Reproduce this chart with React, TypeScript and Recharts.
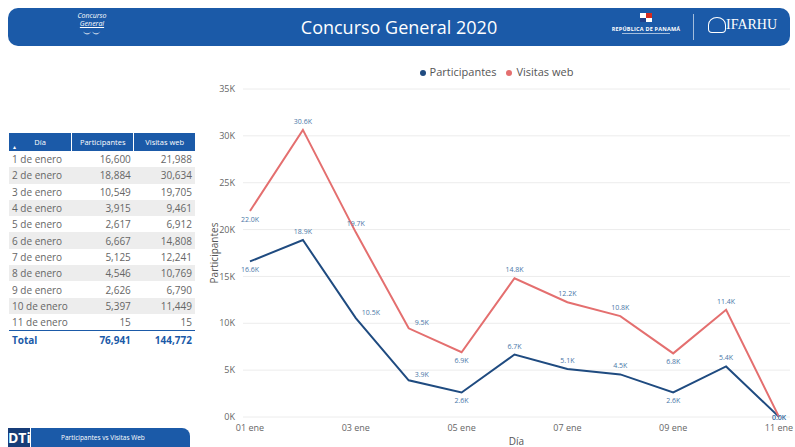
import { LineChart, Line, XAxis, YAxis, CartesianGrid, Legend, LabelList } from 'recharts';

const dayNames = [
  '1 de enero', '2 de enero', '3 de enero', '4 de enero', '5 de enero', '6 de enero',
  '7 de enero', '8 de enero', '9 de enero', '10 de enero', '11 de enero',
];
const axisDays = ['01 ene', '02 ene', '03 ene', '04 ene', '05 ene', '06 ene', '07 ene', '08 ene', '09 ene', '10 ene', '11 ene'];
const participantes = [16600, 18884, 10549, 3915, 2617, 6667, 5125, 4546, 2626, 5397, 15];
const visitasWeb = [21988, 30634, 19705, 9461, 6912, 14808, 12241, 10769, 6790, 11449, 15];
const yTicks = [0, 5000, 10000, 15000, 20000, 25000, 30000, 35000];

// label placement per point (Power BI moves them around to avoid overlap)
const partLabelPos = ['below', 'above', 'right', 'right', 'below', 'above', 'above', 'above', 'below', 'above', 'center'];
const visLabelPos = ['below', 'above', 'above', 'right', 'below', 'above', 'above', 'above', 'below', 'above', 'center'];

const BLUE = '#1b5aa8';
const PART = '#1f4b80';
const VIS = '#e46f6f';
const FONT = '"Open Sans", "Noto Sans", sans-serif';

const chartData = axisDays.map((d, i) => ({
  day: d,
  participantes: participantes[i],
  visitas: visitasWeb[i],
}));

const fmtK = (v: number) => `${(v / 1000).toFixed(1)}K`;
const numFmt = (v: number) => v.toLocaleString('en-US');

const makeLabel = (positions: string[]) => (props: any) => {
  const { x, y, value, index } = props;
  const pos = positions[index] || 'above';
  let dx = 0;
  let dy = -6;
  if (pos === 'below') dy = 11;
  if (pos === 'right') { dx = 6; dy = -3; }
  if (pos === 'center') dy = 3;
  return (
    <text x={x + dx} y={y + dy} fontSize={7} fill="#4a77a8" textAnchor={pos === 'right' ? 'start' : 'middle'} fontFamily={FONT}>
      {fmtK(value)}
    </text>
  );
};

function Header() {
  return (
    <div style={{
      position: 'absolute', left: 8, top: 8, width: 782, height: 38, background: BLUE,
      borderRadius: 10, color: '#fff', fontFamily: FONT,
    }}>
      <div style={{ position: 'absolute', left: 62, top: 4, width: 44, textAlign: 'center', lineHeight: '8px' }}>
        <div style={{ fontSize: 7, fontStyle: 'italic' }}>Concurso</div>
        <div style={{ fontSize: 7, fontStyle: 'italic', textDecoration: 'underline' }}>General</div>
        <div style={{ fontSize: 9, lineHeight: '12px' }}>︶︶</div>
      </div>
      <div style={{ position: 'absolute', left: 0, width: 782, top: 7, textAlign: 'center', fontSize: 18 }}>
        Concurso General 2020
      </div>
      <div style={{ position: 'absolute', left: 632, top: 5, width: 12, height: 9 }}>
        <div style={{ position: 'absolute', left: 0, top: 0, width: 6, height: 4.5, background: '#fff' }} />
        <div style={{ position: 'absolute', left: 6, top: 0, width: 6, height: 4.5, background: '#d52b1e' }} />
        <div style={{ position: 'absolute', left: 0, top: 4.5, width: 6, height: 4.5, background: '#1e3f8a' }} />
        <div style={{ position: 'absolute', left: 6, top: 4.5, width: 6, height: 4.5, background: '#fff' }} />
      </div>
      <div style={{ position: 'absolute', left: 596, top: 17, width: 84, textAlign: 'center', fontSize: 5.5, fontWeight: 700, letterSpacing: 0.2 }}>
        REPÚBLICA DE PANAMÁ
      </div>
      <div style={{ position: 'absolute', left: 614, top: 25, width: 48, height: 1, background: 'rgba(255,255,255,0.6)' }} />
      <div style={{ position: 'absolute', left: 685, top: 6, width: 1, height: 26, background: 'rgba(255,255,255,0.6)' }} />
      <div style={{ position: 'absolute', left: 700, top: 9, width: 16, height: 14, border: '1.5px solid #fff', borderRadius: '50% 50% 4px 4px' }} />
      <div style={{ position: 'absolute', left: 718, top: 9, fontSize: 14, fontFamily: '"Liberation Serif", serif' }}>IFARHU</div>
    </div>
  );
}

function DataTable() {
  const cell = { fontSize: 10, color: '#666', height: 16.3, padding: '0 3px' } as const;
  const totalP = participantes.reduce((a, b) => a + b, 0);
  const totalV = visitasWeb.reduce((a, b) => a + b, 0);
  return (
    <table style={{
      position: 'absolute', left: 9, top: 133, width: 186, borderCollapse: 'collapse', fontFamily: FONT,
    }}>
      <thead>
        <tr style={{ background: BLUE, color: '#fff', height: 18 }}>
          <th style={{ width: 64, fontSize: 7.5, fontWeight: 400, borderRight: '1px solid #fff', position: 'relative' }}>
            Día
            <span style={{ position: 'absolute', left: 4, bottom: 0, fontSize: 6 }}>▴</span>
          </th>
          <th style={{ width: 61, fontSize: 7.5, fontWeight: 400, borderRight: '1px solid #fff' }}>Participantes</th>
          <th style={{ width: 61, fontSize: 7.5, fontWeight: 400 }}>Visitas web</th>
        </tr>
      </thead>
      <tbody>
        {dayNames.map((d, i) => (
          <tr key={d} style={{ background: i % 2 === 1 ? '#ededed' : '#fff' }}>
            <td style={{ ...cell, textAlign: 'left' }}>{d}</td>
            <td style={{ ...cell, textAlign: 'right' }}>{numFmt(participantes[i])}</td>
            <td style={{ ...cell, textAlign: 'right' }}>{numFmt(visitasWeb[i])}</td>
          </tr>
        ))}
        <tr style={{ borderTop: `1px solid ${BLUE}` }}>
          <td style={{ ...cell, color: BLUE, fontWeight: 700, height: 17 }}>Total</td>
          <td style={{ ...cell, color: BLUE, fontWeight: 700, textAlign: 'right' }}>{numFmt(totalP)}</td>
          <td style={{ ...cell, color: BLUE, fontWeight: 700, textAlign: 'right' }}>{numFmt(totalV)}</td>
        </tr>
      </tbody>
    </table>
  );
}

function Footer() {
  return (
    <div style={{ position: 'absolute', left: 8, top: 428, fontFamily: FONT }}>
      <div style={{
        position: 'absolute', left: 0, top: 0, width: 22, height: 19, background: '#173c78', color: '#fff',
        fontWeight: 700, fontSize: 14, lineHeight: '19px', textAlign: 'center',
      }}>DTi</div>
      <div style={{
        position: 'absolute', left: 23, top: 0, width: 159, height: 19, background: BLUE, color: '#fff',
        borderTopRightRadius: 8, fontSize: 6.5, lineHeight: '19px', paddingLeft: 30, boxSizing: 'border-box',
      }}>Participantes vs Visitas Web</div>
    </div>
  );
}

export default function App() {
  return (
    <div style={{ position: 'absolute', left: 0, top: 0, width: 795, height: 447, background: '#fff', overflow: 'hidden' }}>
      <Header />
      <DataTable />
      <Footer />
      <div style={{ position: 'absolute', left: 200, top: 60 }}>
        <LineChart width={595} height={387} data={chartData} margin={{ top: 14, right: 5, bottom: 0, left: 13 }}>
          <CartesianGrid horizontal vertical={false} stroke="#ececec" />
          <XAxis
            dataKey="day"
            interval={1}
            padding={{ left: 7, right: 11 }}
            axisLine={false}
            tickLine={false}
            height={30}
            tick={{ fontSize: 9, fill: '#666', fontFamily: FONT }}
            label={{ value: 'Día', position: 'insideBottom', offset: 2, style: { fontSize: 10, fill: '#555', fontFamily: FONT } }}
          />
          <YAxis
            domain={[0, 35000]}
            ticks={yTicks}
            width={30}
            axisLine={false}
            tickLine={false}
            tickFormatter={(v: number) => `${v / 1000}K`}
            tick={{ fontSize: 9, fill: '#666', fontFamily: FONT }}
            label={{
              value: 'Participantes', angle: -90, position: 'insideLeft', offset: 1,
              style: { textAnchor: 'middle', fontSize: 10, fill: '#555', fontFamily: FONT },
            }}
          />
          <Legend
            verticalAlign="top"
            align="center"
            iconType="circle"
            iconSize={6}
            wrapperStyle={{ top: 4, fontSize: 11, fontFamily: FONT }}
            formatter={(value: string) => <span style={{ color: '#555' }}>{value}</span>}
          />
          <Line
            name="Participantes"
            dataKey="participantes"
            stroke={PART}
            strokeWidth={2}
            dot={false}
            isAnimationActive={false}
          >
            <LabelList dataKey="participantes" content={makeLabel(partLabelPos)} />
          </Line>
          <Line
            name="Visitas web"
            dataKey="visitas"
            stroke={VIS}
            strokeWidth={2}
            dot={false}
            isAnimationActive={false}
          >
            <LabelList dataKey="visitas" content={makeLabel(visLabelPos)} />
          </Line>
        </LineChart>
      </div>
    </div>
  );
}
